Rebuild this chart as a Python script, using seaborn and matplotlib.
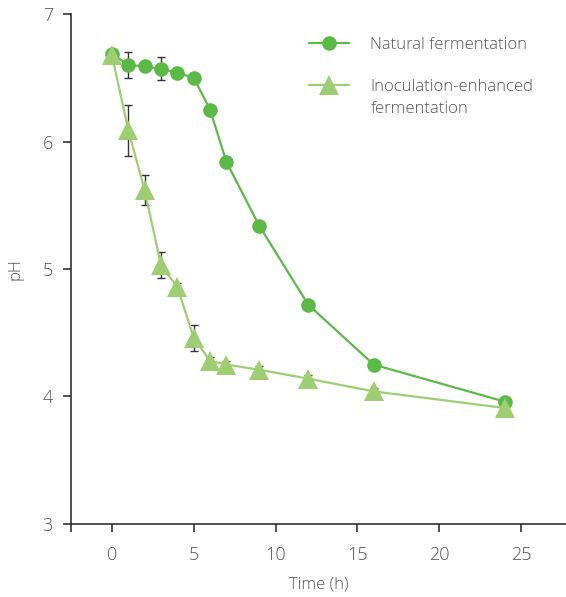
import matplotlib
matplotlib.use("Agg")
import matplotlib.pyplot as plt
import seaborn as sns
import pandas as pd
from matplotlib.lines import Line2D

time_h = [0, 1, 2, 3, 4, 5, 6, 7, 9, 12, 16, 24]
natural_ph = [6.69, 6.60, 6.59, 6.57, 6.54, 6.50, 6.25, 5.84, 5.34, 4.72, 4.25, 3.96]
natural_err = [0.03, 0.10, 0.03, 0.09, 0.03, 0.03, 0.03, 0.03, 0.03, 0.03, 0.03, 0.03]
inoc_ph = [6.68, 6.09, 5.62, 5.03, 4.86, 4.46, 4.28, 4.25, 4.21, 4.14, 4.04, 3.91]
inoc_err = [0.03, 0.20, 0.12, 0.10, 0.03, 0.10, 0.03, 0.03, 0.03, 0.03, 0.03, 0.03]
series_names = ["Natural fermentation", "Inoculation-enhanced fermentation"]
legend_first_lines = ["Natural fermentation", "Inoculation-enhanced"]
legend_second_line = "fermentation"
colors = ["#5bb947", "#9dcf72"]
x_ticks = [0, 5, 10, 15, 20, 25]
y_ticks = [3, 4, 5, 6, 7]

df = pd.DataFrame({
    "Time": time_h * 2,
    "pH": natural_ph + inoc_ph,
    "err": natural_err + inoc_err,
    "Series": [series_names[0]] * len(time_h) + [series_names[1]] * len(time_h),
})

sns.set_style("white")
plt.rcParams["font.family"] = ["Open Sans", "DejaVu Sans"]
text_color = "#555555"
circle_ms = 10.5
tri_ms = 14

fig = plt.figure(figsize=(5.66, 5.97), dpi=100)
ax = fig.add_axes([0.1254, 0.1223, 0.8746, 0.8542])

for name in series_names:
    sub = df[df["Series"] == name]
    ax.errorbar(sub["Time"], sub["pH"], yerr=sub["err"], fmt="none",
                ecolor="#333333", elinewidth=1.0, capsize=3, capthick=1.0, zorder=1)

sns.lineplot(data=df, x="Time", y="pH", hue="Series", style="Series",
             hue_order=series_names, style_order=series_names,
             palette=colors, markers=["o", "^"], dashes=False,
             markersize=10, linewidth=1.6, markeredgewidth=0,
             ax=ax, zorder=3, legend=False)
for ln in ax.get_lines():
    if ln.get_marker() == "^":
        ln.set_markersize(tri_ms)
    elif ln.get_marker() == "o":
        ln.set_markersize(circle_ms)

ax.set_xlim(-2.5, 27.75)
ax.set_ylim(3, 7)
ax.set_xticks([-2.5] + x_ticks)
ax.set_xticklabels([""] + [str(t) for t in x_ticks])
ax.set_yticks(y_ticks)
ax.set_yticklabels([str(t) for t in y_ticks])
ax.tick_params(axis="both", direction="out", length=6, width=1.1, color="#222222",
               labelsize=13, labelcolor=text_color, left=True, bottom=True)
for lab in ax.get_xticklabels() + ax.get_yticklabels():
    lab.set_fontweight("light")
ax.tick_params(axis="x", pad=10)
ax.tick_params(axis="y", pad=7)
for s in ["top", "right"]:
    ax.spines[s].set_visible(False)
for s in ["left", "bottom"]:
    ax.spines[s].set_color("#222222")
    ax.spines[s].set_linewidth(1.1)

ax.set_xlabel("Time (h)", fontsize=12, color=text_color, labelpad=9, fontweight="light")
ax.set_ylabel("pH", fontsize=12, color=text_color, labelpad=14, fontweight="light")

handles = [
    Line2D([], [], color=colors[0], marker="o", markersize=circle_ms, linewidth=1.6, markeredgewidth=0),
    Line2D([], [], color=colors[1], marker="^", markersize=tri_ms, linewidth=1.6, markeredgewidth=0),
]
leg = ax.legend(handles, legend_first_lines, loc="upper left", bbox_to_anchor=(0.45, 0.985),
                frameon=False, handlelength=2.4, handletextpad=1.3,
                labelspacing=1.55, labelcolor=text_color,
                prop={"size": 12, "weight": "light"})

fig.canvas.draw()
bb = leg.get_texts()[1].get_window_extent(renderer=fig.canvas.get_renderer())
x0, y0 = fig.transFigure.inverted().transform((bb.x0, bb.y0 - 22))
fig.text(x0, y0, legend_second_line, ha="left", va="bottom",
         fontsize=12, fontweight="light", color=text_color)

fig.savefig("out.png", dpi=100)
